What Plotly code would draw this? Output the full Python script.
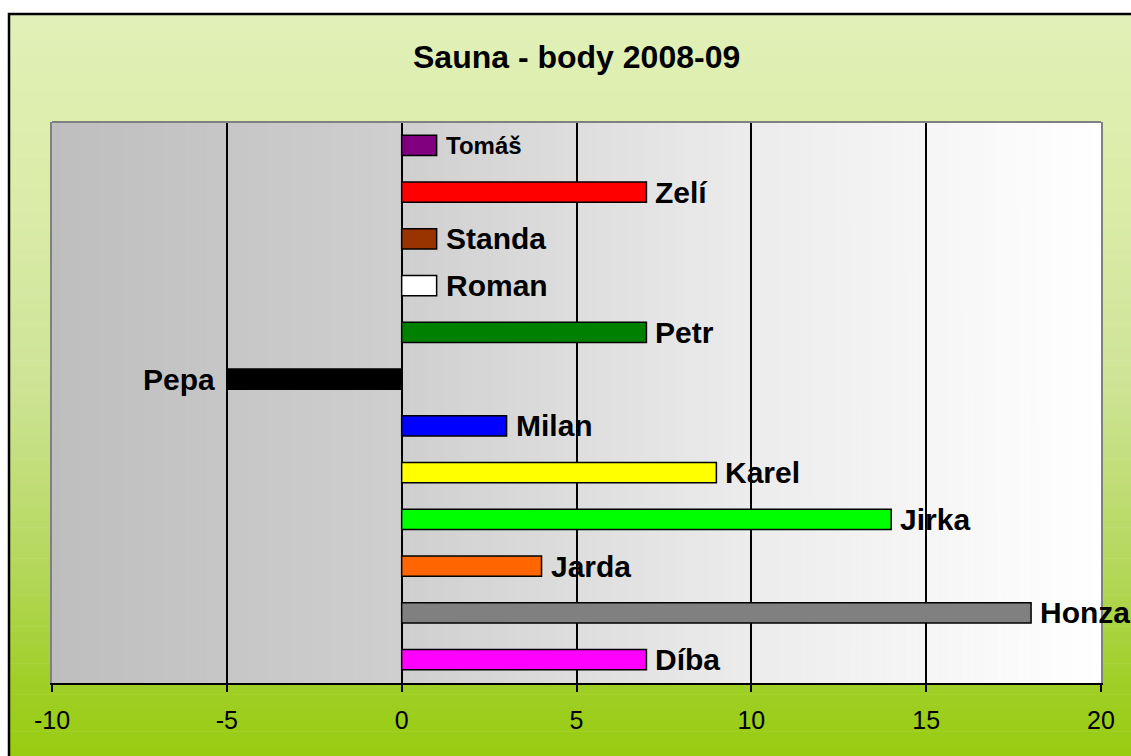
import plotly.graph_objects as go

# ---- data (top to bottom as shown) ----
names = ["Tomáš", "Zelí", "Standa", "Roman", "Petr", "Pepa",
         "Milan", "Karel", "Jirka", "Jarda", "Honza", "Díba"]
points = [1, 7, 1, 1, 7, -5, 3, 9, 14, 4, 18, 7]
bar_colors = ["#800080", "#ff0000", "#993300", "#ffffff", "#008000", "#000000",
              "#0000ff", "#ffff00", "#00ff00", "#ff6600", "#808080", "#ff00ff"]
label_sizes = [24, 30, 30, 30, 30, 30, 30, 30, 30, 30, 30, 30]
x_ticks = [-10, -5, 0, 5, 10, 15, 20]
title_text = "Sauna - body 2008-09"

W, H = 1131, 756
L, R, T, B = 52, 1101, 122, 683   # plot area in pixels

def px2x(px):
    return (px - L) / (R - L)

def px2y(py):
    return (B - py) / (B - T)

def lerp_stops(stops, t):
    for (t0, c0), (t1, c1) in zip(stops[:-1], stops[1:]):
        if t0 <= t <= t1:
            f = (t - t0) / (t1 - t0) if t1 > t0 else 0
            return tuple(round(a + (b - a) * f) for a, b in zip(c0, c1))
    return stops[-1][1]

shapes = []
# chart background: vertical gradient (pixel y -> colour)
bg_stops = [(14, (225, 240, 183)), (200, (219, 236, 168)), (385, (205, 228, 150)),
            (570, (180, 215, 90)), (680, (160, 207, 40)), (756, (152, 204, 16))]
n = 120
for i in range(n):
    y0 = 14 + (756 - 14) * i / n
    y1 = 14 + (756 - 14) * (i + 1) / n + 0.6
    c = lerp_stops(bg_stops, (y0 + y1) / 2)
    shapes.append(dict(type="rect", xref="paper", yref="paper", layer="below",
                       x0=px2x(8), x1=px2x(W + 10), y0=px2y(y1), y1=px2y(y0),
                       line=dict(width=0), fillcolor="rgb(%d,%d,%d)" % c))
# plot area: horizontal gradient grey -> white (in axis units)
pa_stops = [(-10, (190, 190, 190)), (0, (207, 207, 207)), (10, (236, 236, 236)),
            (20, (255, 255, 255))]
m = 150
for i in range(m):
    x0 = -10 + 30 * i / m
    x1 = -10 + 30 * (i + 1) / m + 0.02
    c = lerp_stops(pa_stops, (x0 + x1) / 2)
    shapes.append(dict(type="rect", xref="x", yref="y domain", layer="below",
                       x0=x0, x1=min(x1, 20), y0=0, y1=1,
                       line=dict(width=0), fillcolor="rgb(%d,%d,%d)" % c))
# outer chart frame
shapes.append(dict(type="rect", xref="paper", yref="paper", layer="above",
                   x0=px2x(9), x1=px2x(W + 20), y0=px2y(H + 20), y1=px2y(14),
                   line=dict(color="black", width=2.5), fillcolor="rgba(0,0,0,0)"))
# top border of plot area
shapes.append(dict(type="line", xref="paper", yref="paper", layer="above",
                   x0=0, x1=1, y0=1, y1=1, line=dict(color="#808080", width=2)))

fig = go.Figure()
fig.add_trace(go.Bar(
    x=points, y=names, orientation="h", width=0.43,
    marker=dict(color=bar_colors, line=dict(color="black", width=1.5)),
    hoverinfo="x+y", showlegend=False,
))

annotations = []
for nm, v, s in zip(names, points, label_sizes):
    annotations.append(dict(
        x=v, y=nm, xref="x", yref="y", text=nm, showarrow=False,
        xanchor="left" if v >= 0 else "right", yanchor="middle",
        xshift=7 if v >= 0 else -10,
        font=dict(family="Liberation Sans, Arial, sans-serif", size=s,
                  color="black", weight="bold"),
    ))
annotations.append(dict(
    x=0.5, y=px2y(57), xref="paper", yref="paper", text=title_text,
    showarrow=False, xanchor="center", yanchor="middle",
    font=dict(family="Liberation Sans, Arial, sans-serif", size=32,
              color="black", weight="bold"),
))

fig.update_layout(
    width=W, height=H,
    margin=dict(l=L, r=W - R, t=T, b=H - B, pad=0),
    paper_bgcolor="white", plot_bgcolor="rgba(0,0,0,0)",
    shapes=shapes, annotations=annotations,
    xaxis=dict(range=[-10, 20], tickvals=x_ticks, ticktext=[str(t) for t in x_ticks],
               showgrid=True, gridcolor="black", gridwidth=1.5, zeroline=False,
               showline=True, linecolor="black", linewidth=2,
               ticks="outside", ticklen=7, tickwidth=1.5, tickcolor="black",
               ticklabelstandoff=7,
               tickfont=dict(family="Liberation Sans, Arial, sans-serif", size=25,
                             color="black")),
    yaxis=dict(autorange="reversed", showticklabels=False, showgrid=False,
               zeroline=False, showline=True, linecolor="#808080", linewidth=2,
               mirror=True, ticks=""),
    bargap=0.57,
)

fig.write_html("out.html", config={"displayModeBar": False},
               post_script="document.body.style.margin='0';")
